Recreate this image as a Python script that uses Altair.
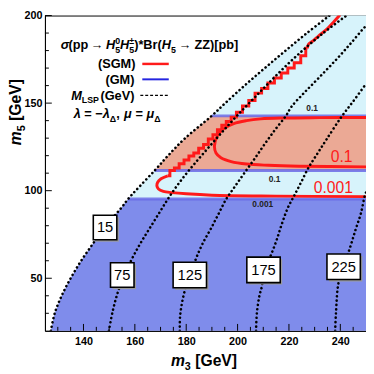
import altair as alt
import pandas as pd

FONT = "Liberation Sans"

# ---------------- values ----------------
x_domain = [125, 250]
y_domain = [20, 200]
x_major = [140, 160, 180, 200, 220, 240]
x_minor = [130, 135, 145, 150, 155, 165, 170, 175, 185, 190, 195, 205, 210, 215, 225, 230, 235, 245]
y_major = [50, 100, 150, 200]
y_minor = [30, 40, 60, 70, 80, 90, 110, 120, 130, 140, 160, 170, 180, 190]

# edge of the allowed region (also the M_LSP = 15 contour)
bnd_y = [20, 30, 40, 50, 60, 70, 79, 90, 95.3, 100, 111.5, 120, 130, 142.7, 150, 160, 170, 180, 190, 200]
bnd_x = [127.3, 128.8, 131.5, 135.0, 139.1, 143.8, 148.1, 154.6, 157.4, 160.3, 167.7, 172.9, 179.6, 189.9,
         195.2, 202.7, 210.6, 218.7, 227.0, 235.8]

# GM contour levels (horizontal), where they start on the edge
gm_y = [95.3, 111.5, 142.7]
gm_x0 = [157.4, 167.7, 189.9]

# SGM 0.1 contour
sgm01_x = [250, 232, 218, 209, 203.5, 198.5, 194.5, 192.0, 191.0, 191.6, 193.5, 197.5, 203.5, 212, 224, 250]
sgm01_y = [141.8, 141.7, 141.5, 141.0, 140.0, 138.3, 135.3, 131.0, 125.5, 121.5, 118.8, 116.6, 115.2, 114.5, 114.0, 113.6]

# SGM 0.001 contour: lower smooth part, stepped part, upper smooth part
sgm001a_x = [250, 215, 190, 180, 174.5, 171.1, 169.2, 168.6, 168.9, 170.2, 172.8]
sgm001a_y = [96.6, 96.9, 97.4, 98.2, 98.9, 99.6, 101.0, 102.7, 104.8, 106.8, 108.5]
sgm001b_x = [172.8, 174.5, 176.3, 178.2, 180.1, 182.0, 183.9, 185.8, 187.7, 189.5, 191.3, 193.0, 194.7, 196.5,
             198.5, 200.6, 203.2, 205.5, 208.1, 210.6, 213.0, 215.7, 218.3, 220.8, 223.3, 225.9, 227.2]
sgm001b_y = [108.5, 111.5, 113.0, 115.4, 117.5, 119.8, 121.5, 124.2, 126.4, 129.5, 132.0, 134.8, 137.4, 139.5,
             142.0, 144.8, 148.4, 151.5, 155.7, 158.3, 161.5, 164.3, 167.2, 170.0, 173.1, 177.0, 181.3]
sgm001c_x = [227.2, 227.6, 229.5, 231.5, 234.8, 237.5, 239.9]
sgm001c_y = [181.3, 183.6, 185.7, 188.3, 192.3, 196.5, 200.5]

# M_LSP contours
c75_x = [149.9, 151.5, 153.6, 156.3, 159.2, 162.6, 166.4, 170.2, 174.1, 178.3, 183.0, 188.3, 194.0, 199.6,
         206.5, 214.5, 223.0, 232.5, 242.4]
c75_y = [20, 32, 43, 53, 62, 71, 80, 89, 98, 106.5, 115, 124, 133.5, 142.5, 153, 165, 177, 189, 200]
c125_x = [177.5, 177.6, 178.5, 180.0, 181.4, 182.5, 184.3, 186.8, 189.7, 192.5, 195.5, 199.0, 202.6, 206.5,
          210.5, 214.7, 218.9, 221.0, 226.0, 232.0, 238.5, 244.0, 248.8, 250.0]
c125_y = [20, 28, 37, 46, 52, 56, 63, 71, 78.6, 86.5, 95, 102.5, 110, 118, 126.5, 135, 142.9, 148, 156, 165,
          175, 184, 192.3, 194]
c175_x = [207.2, 207.5, 208.5, 209.5, 210.1, 212.6, 215.0, 217.1, 219.5, 222.0, 224.8, 227.8, 231.0, 234.5,
          240.5, 245.0, 250.0]
c175_y = [20, 30, 40, 45.6, 54.8, 62, 71, 80.4, 90, 97, 105, 113.6, 121, 129, 142.3, 151, 161]
c225_x = [238.0, 238.3, 239.3, 241.3, 243.8, 246.0, 248.0, 249.5, 250.0]
c225_y = [20, 30, 47.4, 56.6, 67.6, 78, 87, 96.9, 99]

# boxed M_LSP labels
lbl_text = ["15", "75", "125", "175", "225"]
lbl_x = [148.4, 155.1, 181.4, 210.1, 241.3]
lbl_y = [79.0, 51.9, 51.9, 54.8, 56.6]

# small GM contour labels
gml_text = ["0.1", "0.1", "0.001"]
gml_x = [229.0, 214.4, 209.8]
gml_y = [146.9, 106.9, 92.3]

# red SGM contour labels
sgml_text = ["0.1", "0.001"]
sgml_x = [240.5, 237.3]
sgml_y = [119.1, 101.6]

# ---------------- layout ----------------
W, H = 327.5, 321.6
X0 = 45.7
REF_TOP, REF_H = 6.5, 327.1


def ry(py):
    return (py - REF_TOP) * H / REF_H


xs = alt.Scale(domain=x_domain, nice=False, zero=False)
ys = alt.Scale(domain=y_domain, nice=False, zero=False)
x_axis = alt.Axis(values=x_major, title=None, grid=False, ticks=False, domainColor="black",
                  labelFont=FONT, labelFontSize=11, labelFontWeight="bold", labelColor="black",
                  labelPadding=5, labelFlush=False)
y_axis = alt.Axis(values=y_major, title=None, grid=False, ticks=False, domainColor="black",
                  labelFont=FONT, labelFontSize=11, labelFontWeight="bold", labelColor="black",
                  labelPadding=3, labelFlush=False)


def X(f):
    return alt.X(f, type="quantitative", scale=xs, axis=x_axis)


def Y(f):
    return alt.Y(f, type="quantitative", scale=ys, axis=y_axis)


layers = []

# filled bands
bnd = pd.DataFrame({"x": bnd_x, "y": bnd_y})
bands = [(20, 95.3, "#7f8ceb"), (95.3, 111.5, "#d7f3fb"), (111.5, 142.7, "#eba995"), (142.7, 200, "#d7f3fb")]
for lo, hi, col in bands:
    layers.append(
        alt.Chart(bnd).transform_filter((alt.datum.y >= lo) & (alt.datum.y <= hi))
        .mark_area(orient="horizontal", color=col, opacity=1)
        .encode(y=Y("y"), x=X("x"), x2=alt.datum(250))
    )

# GM contour lines
gm = pd.DataFrame({"x0": gm_x0, "y": gm_y})
layers.append(alt.Chart(gm).mark_rule(color="#6a6ae6", strokeWidth=3, opacity=0.85)
              .encode(x=X("x0"), x2=alt.datum(250), y=Y("y")))


def line_layer(lx, ly, **mk):
    df = pd.DataFrame({"x": lx, "y": ly, "i": list(range(len(lx)))})
    return alt.Chart(df).mark_line(clip=True, **mk).encode(x=X("x"), y=Y("y"), order=alt.Order("i:Q"))


RED = "#ff1a1a"
layers.append(line_layer(sgm01_x, sgm01_y, color=RED, strokeWidth=3, interpolate="catmull-rom"))
layers.append(line_layer(sgm001a_x, sgm001a_y, color=RED, strokeWidth=3, interpolate="catmull-rom"))
layers.append(line_layer(sgm001b_x, sgm001b_y, color=RED, strokeWidth=3, interpolate="step"))
layers.append(line_layer(sgm001c_x, sgm001c_y, color=RED, strokeWidth=3, interpolate="catmull-rom"))

dot = dict(color="black", strokeWidth=2.6, strokeDash=[0.1, 4.3], strokeCap="round", interpolate="catmull-rom")
for cx, cy in [(bnd_x, bnd_y), (c75_x, c75_y), (c125_x, c125_y), (c175_x, c175_y), (c225_x, c225_y)]:
    layers.append(line_layer(cx, cy, **dot))

# small GM labels
gml = pd.DataFrame({"x": gml_x, "y": gml_y, "t": gml_text})
layers.append(alt.Chart(gml).mark_text(font=FONT, fontSize=8.5, fontWeight="bold", color="#222")
              .encode(x=X("x"), y=Y("y"), text="t:N"))
# red SGM labels
sgml = pd.DataFrame({"x": sgml_x, "y": sgml_y, "t": sgml_text})
layers.append(alt.Chart(sgml).mark_text(font=FONT, fontSize=16, color=RED)
              .encode(x=X("x"), y=Y("y"), text="t:N"))

# boxed labels
lbl = pd.DataFrame({"x": lbl_x, "y": lbl_y, "t": lbl_text, "n": [len(t) for t in lbl_text]})
box_shapes = {
    2: ("M-0.96,-1H0.96V1H-0.96Z", "M-0.8,-0.84H1.12V1.16H-0.8Z", 625),
    3: ("M-1.31,-1H1.31V1H-1.31Z", "M-1.156,-0.846H1.464V1.154H-1.156Z", 676),
}
for n, (path, shadow, size) in box_shapes.items():
    sub = alt.Chart(lbl).transform_filter(alt.datum.n == n)
    layers.append(sub.mark_point(shape=shadow, size=size, filled=True, color="#9a9a9a", opacity=1)
                  .encode(x=X("x"), y=Y("y")))
    layers.append(sub.mark_point(shape=path, size=size, filled=True, color="white", opacity=1,
                                 stroke="black", strokeWidth=1.6)
                  .encode(x=X("x"), y=Y("y")))
layers.append(alt.Chart(lbl).mark_text(font=FONT, fontSize=15, color="black")
              .encode(x=X("x"), y=Y("y"), text="t:N"))

# inward ticks
for vals, ln in [(y_major, 7), (y_minor, 4)]:
    layers.append(alt.Chart(pd.DataFrame({"v": vals})).mark_rule(color="black", strokeWidth=1)
                  .encode(y=Y("v"), x=alt.value(0), x2=alt.value(ln)))
for vals, ln in [(x_major, 7), (x_minor, 4)]:
    layers.append(alt.Chart(pd.DataFrame({"v": vals})).mark_rule(color="black", strokeWidth=1)
                  .encode(x=X("v"), y=alt.value(H), y2=alt.value(H - ln)))

# ---------------- text (legend, axis titles) ----------------
CW = {' ': 0.278, '(': 0.333, ')': 0.333, '[': 0.333, ']': 0.333, '*': 0.389, ',': 0.278, '=': 0.584,
      '−': 0.584, '→': 1.0, 'B': 0.722, 'G': 0.778, 'H': 0.722, 'L': 0.611, 'M': 0.833, 'P': 0.667,
      'S': 0.667, 'V': 0.667, 'Z': 0.611, 'b': 0.611, 'e': 0.556, 'p': 0.611, 'r': 0.389, 'm': 0.889,
      'σ': 0.617, 'λ': 0.556, 'μ': 0.611, 'Δ': 0.722, '±': 0.549}


def tw(s, fs):
    return sum(CW.get(c, 0.556) for c in s) * fs


one = pd.DataFrame({"k": [0]})


def txt(t, x, y, fs, italic=False, bold=True, color="black", angle=None):
    # SVG drops leading/trailing spaces, so shift the start instead
    lead = len(t) - len(t.lstrip(" "))
    shift = tw(" " * lead, fs)
    if angle == 270:
        y = y - shift
    else:
        x = x + shift
    kw = dict(text=t.strip(" "), font=FONT, fontSize=fs, fontWeight="bold" if bold else "normal",
              fontStyle="italic" if italic else "normal", color=color, align="left", baseline="alphabetic")
    if angle is not None:
        kw["angle"] = angle
    return alt.Chart(one).mark_text(**kw).encode(x=alt.value(x), y=alt.value(y))


def run_layers(runs, x, y, right=False):
    # run: (text, size, italic, dy, advances, extra space after)
    total = sum(tw(r[0], r[1]) + r[5] for r in runs if r[4])
    if right:
        x = x - total
    out = []
    for t, fs, it, dy, adv, extra in runs:
        out.append(txt(t, x, y + dy, fs, italic=it))
        if adv:
            x += tw(t, fs) + extra
    return out


SUB, SUP = 3.5, -5.5
L1 = [("σ", 13, True, 0, True, 0), ("(pp", 13, False, 0, True, 2.5), ("→", 13, False, 0, True, 2.5),
      ("H", 13, True, 0, True, 0),
      ("0", 9, False, SUP, False, 0), ("5", 9, False, SUB, True, 0), ("H", 13, True, 0, True, 0),
      ("±", 9, False, SUP, False, 0), ("5", 9, False, SUB, True, 0), (")*Br(", 13, False, 0, True, 0),
      ("H", 13, True, 0, True, 0), ("5", 9, False, SUB, True, 3.0), ("→", 13, False, 0, True, 3.0),
      ("ZZ)[pb]", 13, False, 0, True, 0)]
layers += run_layers(L1, 16.0, ry(41.4))
layers += run_layers([("(SGM)", 13, False, 0, True, 0)], 92.3, ry(61.4), right=True)
layers += run_layers([("(GM)", 13, False, 0, True, 0)], 91.3, ry(77.4), right=True)
layers += run_layers([("M", 13, True, 0, True, 0), ("LSP", 9, False, SUB, True, 1.5),
                      ("(GeV)", 13, False, 0, True, 0)], 91.3, ry(94.0), right=True)
L5 = [("λ", 13, True, 0, True, 3.6), ("=", 13, False, 0, True, 3.6), ("−", 13, False, 0, True, 0),
      ("λ", 13, True, 0, True, 0), ("Δ", 9, False, SUB, True, 0), (",", 13, False, 0, True, 4.5),
      ("μ", 13, True, 0, True, 3.6), ("=", 13, False, 0, True, 3.6), ("μ", 13, True, 0, True, 0),
      ("Δ", 9, False, SUB, True, 0)]
layers += run_layers(L5, 29.3, ry(113.0))

# legend swatches
layers.append(alt.Chart(one).mark_rule(color=RED, strokeWidth=2.5)
              .encode(x=alt.value(99.3), x2=alt.value(126.3), y=alt.value(ry(56.7))))
layers.append(alt.Chart(one).mark_rule(color="#2424e0", strokeWidth=2)
              .encode(x=alt.value(99.3), x2=alt.value(126.3), y=alt.value(ry(72.7))))
layers.append(alt.Chart(one).mark_rule(color="black", strokeWidth=1.3, strokeDash=[3, 2])
              .encode(x=alt.value(97.3), x2=alt.value(126.3), y=alt.value(ry(89.3))))

# x-axis title  m3 [GeV]
xb = H + 36.4
xt0 = 128.5
layers.append(txt("m", xt0, xb, 16, italic=True))
layers.append(txt("3", xt0 + tw("m", 16), xb + 3.5, 11))
layers.append(txt(" [GeV]", xt0 + tw("m", 16) + tw("3", 11), xb, 16))

# y-axis title  m5 [GeV] (rotated)
yb = 21.5 - X0
y_start = ry(141.0)
layers.append(txt("m", yb, y_start, 16, italic=True, angle=270))
layers.append(txt("5", yb + 3.5, y_start - tw("m", 16), 11, angle=270))
layers.append(txt(" [GeV]", yb, y_start - tw("m", 16) - tw("5", 11), 16, angle=270))

chart = alt.layer(*layers).properties(
    width=W, height=H,
    autosize=alt.AutoSizeParams(type="none"),
    padding={"left": 37.7, "top": 4, "right": 0, "bottom": 42},
).configure_view(stroke="black", strokeWidth=1)

chart.save("out.html", embed_options={"renderer": "svg", "actions": False})
